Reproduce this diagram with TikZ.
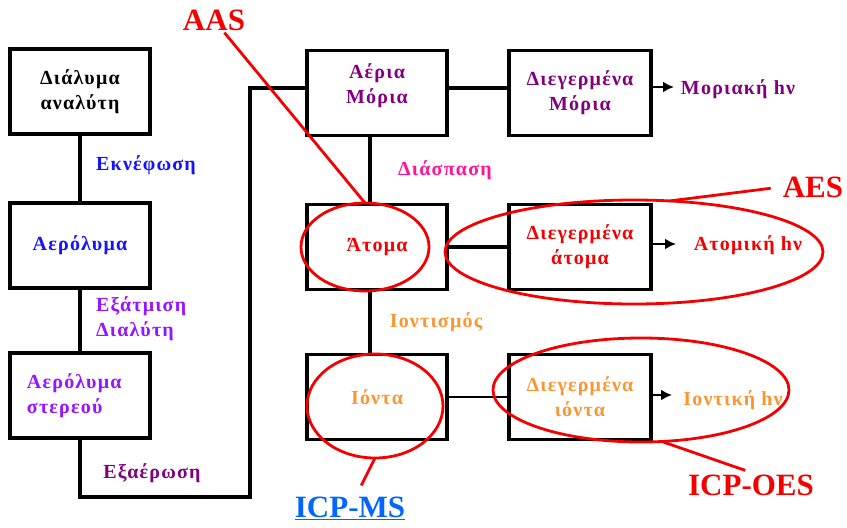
\documentclass[tikz,border=0pt]{standalone}
\usepackage{fontspec}
\setmainfont{Liberation Serif}
\newfontfamily\spaced{Liberation Serif}[LetterSpace=6]
\usetikzlibrary{shapes.geometric,arrows.meta}
\definecolor{mblue}{RGB}{20,20,245}
\definecolor{violet}{RGB}{150,20,255}
\definecolor{mpurple}{RGB}{128,0,128}
\definecolor{mpink}{RGB}{255,20,150}
\definecolor{mred}{RGB}{245,0,0}
\definecolor{morange}{RGB}{250,150,50}
\definecolor{linkblue}{RGB}{0,102,255}
\begin{document}
\begin{tikzpicture}[
        x=1pt,y=-1pt,
        box/.style={draw,line width=3.3pt,minimum width=140pt,minimum height=85pt,
            align=center,font=\spaced\bfseries\fontsize{20}{25}\selectfont},
        txt/.style={align=center,inner sep=1pt,font=\spaced\bfseries\fontsize{20}{25}\selectfont},
        link/.style={line width=3.3pt},
        arr/.style={line width=2.8pt,-{Latex[length=11pt,width=11pt]}},
        ring/.style={draw=mred,line width=2.8pt,ellipse,inner sep=0pt,outer sep=0pt},
        tag/.style={font=\bfseries\fontsize{31}{31}\selectfont,text=mred,inner sep=2pt}
    ]
    \useasboundingbox (0,0) rectangle (847,528);
    % left column
    \node[box] (sol) at (80,91.5) {Διάλυμα\\αναλύτη};
    \node[box,text=mblue] (aer) at (80,245.5) {Αερόλυμα};
    \node[box,text=violet,text width=106pt,align=left] (solid) at (80,395.5) {Αερόλυμα\\στερεού};
    \node[txt,text=mblue] (neb) at (146,165) {Εκνέφωση};
    \node[txt,text=violet,anchor=west,align=left] (evap) at (95,319) {Εξάτμιση\\Διαλύτη};
    \node[txt,text=mpurple] (vap) at (152,473) {Εξαέρωση};
    % middle column
    \node[box,text=mpurple,text depth=18pt] (gas) at (377,93) {Αέρια\\Μόρια};
    \node[box,text=mred] (atoms) at (377,247) {Άτομα};
    \node[box,text=morange] (ions) at (377,397) {Ιόντα};
    \node[txt,text=mpink] (dis) at (445,170) {Διάσπαση};
    \node[txt,text=morange] (ioniz) at (436,322) {Ιοντισμός};
    % right column
    \node[box,minimum width=142pt,text=mpurple] (excmol) at (580,93) {Διεγερμένα\\Μόρια};
    \node[box,minimum width=142pt,text=mred] (excat) at (580,247) {Διεγερμένα\\άτομα};
    \node[box,minimum width=142pt,text=morange] (excion) at (580,397) {Διεγερμένα\\ιόντα};
    \node[txt,text=mpurple] (molhv) at (738,89) {Μοριακή hν};
    \node[txt,text=mred] (athv) at (748,245) {Ατομική hν};
    \node[txt,text=morange] (ionhv) at (733,400) {Ιοντική hν};
    % connectors
    \coordinate (turn) at (250,497);
    \coordinate (molend) at (674,87);
    \coordinate (atend) at (676,244);
    \coordinate (ionend) at (672,395);
    \draw[link] (sol) -- (aer);
    \draw[link] (aer) -- (solid);
    \draw[link] (solid.south) |- (turn) |- ([yshift=5pt]gas.west);
    \draw[link] ([yshift=5pt]gas.east) -- ([yshift=5pt]excmol.west);
    \draw[link] ([xshift=-7pt]gas.south) -- ([xshift=-7pt]atoms.north);
    \draw[link] ([xshift=-7pt]atoms.south) -- ([xshift=-7pt]ions.north);
    \draw[link] (atoms) -- (excat);
    \draw[line width=2.4pt] (ions) -- (excion);
    \draw[arr] (excmol.east |- molend) -- (molend);
    \draw[arr] (excat.east |- atend) -- (atend);
    \draw[arr] (excion.east |- ionend) -- (ionend);
    % techniques
    \node[ring,minimum width=128pt,minimum height=88pt] (aasring) at (365,247) {};
    \node[ring,minimum width=378pt,minimum height=104pt] (aesring) at (634,252) {};
    \node[ring,minimum width=136pt,minimum height=104pt] (msring) at (375,406) {};
    \node[ring,minimum width=296pt,minimum height=104pt] (oesring) at (641,390) {};
    \node[tag] (aas) at (214,20) {AAS};
    \node[tag] (aes) at (813,187) {AES};
    \node[tag,text=linkblue] (icpms) at (350,508) {\underline{ICP-MS}};
    \node[tag] (icpoes) at (751,485) {ICP-OES};
    \draw[mred,line width=2.8pt] (aas) -- (aasring.north);
    \draw[mred,line width=2.8pt,shorten >=10pt] (aesring.55) -- (aes.west);
    \draw[mred,line width=2.8pt,shorten >=10pt] (msring.south) -- (icpms);
    \draw[mred,line width=2.8pt,shorten >=6pt] (oesring.-68) -- (icpoes.north);
\end{tikzpicture}
\end{document}
